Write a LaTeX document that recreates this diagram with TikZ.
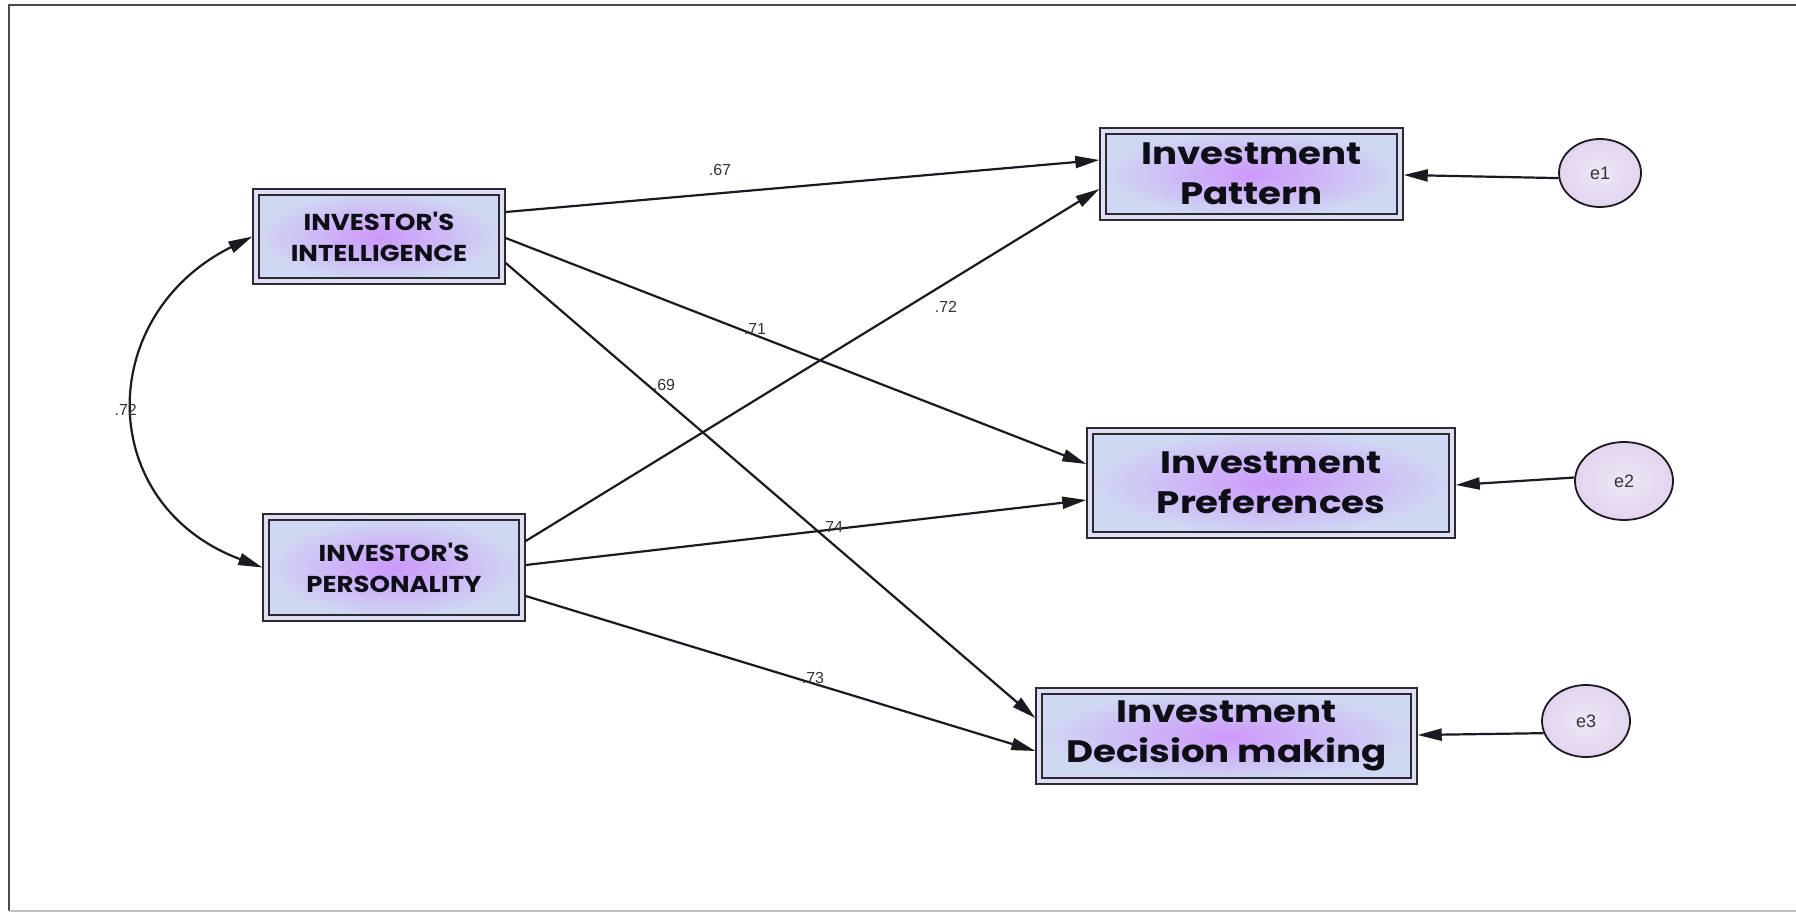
\documentclass[tikz,border=0pt]{standalone}
\usepackage{fontspec}
\setmainfont{Liberation Sans}
\newfontfamily\boxfont[FakeStretch=1.2]{Poppins}
\newfontfamily\capfont[FakeStretch=1.13]{Poppins}
\usetikzlibrary{arrows.meta,shapes.geometric}

\definecolor{boxline}{HTML}{2A2A34}
\definecolor{boxband}{HTML}{E0DEF0}
\definecolor{boxmid}{HTML}{CC98FA}
\definecolor{boxedge}{HTML}{CFD8F2}
\definecolor{boxtext}{HTML}{0E0E16}
\definecolor{linecol}{HTML}{1A1A20}
\definecolor{errmid}{HTML}{EEE8F6}
\definecolor{erredge}{HTML}{E2D4EE}
\definecolor{coeftext}{HTML}{333333}

\tikzset{
  sembox/.style={rectangle, draw=boxline, line width=1.6pt, double=boxband,
    double distance=4.2pt, inner color=boxmid, outer color=boxedge,
    inner sep=0pt, outer sep=3.7pt, align=center, text=boxtext},
  bigtext/.style={font=\boxfont\bfseries\fontsize{31}{40}\selectfont},
  captext/.style={font=\capfont\bfseries\fontsize{23}{31}\selectfont},
  errnode/.style={ellipse, draw=linecol, line width=1.8pt, inner color=errmid,
    outer color=erredge, inner sep=0pt, text=coeftext,
    font=\fontsize{18}{20}\selectfont},
  link/.style={draw=linecol, line width=2.2pt,
    -{Triangle[length=24pt,width=12pt]}},
  coef/.style={text=coeftext, font=\fontsize{16}{18}\selectfont, inner sep=1pt}
}

\begin{document}
\begin{tikzpicture}[x=1pt,y=-1pt]
  \useasboundingbox (0,0) rectangle (1796,913);
  \fill[white] (0,0) rectangle (1796,913);

  % page frame
  \draw[draw=black!70, line width=1.2pt] (1796,5) -- (9,5) -- (9,911);
  \draw[draw=black!25, line width=1.2pt] (9,911) -- (1796,911);

  % exogenous constructs
  \node[sembox, captext, minimum width=246pt, minimum height=89pt] (intel)
    at (379,236.5) {INVESTOR'S\\INTELLIGENCE};
  \node[sembox, captext, minimum width=256pt, minimum height=101pt] (pers)
    at (394,567.5) {INVESTOR'S\\PERSONALITY};

  % endogenous constructs
  \node[sembox, bigtext, minimum width=297pt, minimum height=86pt] (pat)
    at (1251.5,174) {Investment\\Pattern};
  \node[sembox, bigtext, minimum width=362pt, minimum height=104pt] (pref)
    at (1271,483) {Investment\\Preferences};
  \node[sembox, bigtext, minimum width=375pt, minimum height=90pt] (dec)
    at (1226.5,736) {Investment\\Decision making};

  % error terms
  \node[errnode, minimum width=82pt, minimum height=68pt] (e1) at (1600,173) {e1};
  \node[errnode, minimum width=98pt, minimum height=78pt] (e2) at (1624,481) {e2};
  \node[errnode, minimum width=88pt, minimum height=72pt] (e3) at (1586,721) {e3};

  % correlation between the two exogenous constructs
  \draw[draw=linecol, line width=2.2pt,
        {Triangle[length=24pt,width=12pt]}-{Triangle[length=24pt,width=12pt]}]
    (intel.west) .. controls +(-158,79) and +(-168,-63) .. (pers.west);
  \node[coef, anchor=east] (r) at (138,410) {.72};

  % structural paths
  \draw[link] ([yshift=24.5pt]intel.east) -- ([yshift=14pt]pat.west);
  \draw[link] ([yshift=-1.5pt]intel.east) -- ([yshift=19pt]pref.west);
  \draw[link] ([yshift=-26.5pt]intel.east) -- ([yshift=18pt]dec.west);
  \draw[link] ([yshift=26.5pt]pers.east) -- ([yshift=-15pt]pat.west);
  \draw[link] ([yshift=2.5pt]pers.east) -- ([yshift=-17pt]pref.west);
  \draw[link] ([yshift=-28.5pt]pers.east) -- ([yshift=-15pt]dec.west);

  % residual paths
  \draw[link] (e1.187) -- ([yshift=-1pt]pat.east);
  \draw[link] (e2.176) -- ([yshift=-2pt]pref.east);
  \draw[link] (e3.196) -- ([yshift=1pt]dec.east);

  % path coefficients
  \node[coef] (c1) at (720,170) {.67};
  \node[coef] (c2) at (755,329) {.71};
  \node[coef] (c3) at (664,385) {.69};
  \node[coef] (c4) at (946,307) {.72};
  \node[coef] (c5) at (832,527) {.74};
  \node[coef] (c6) at (813,678) {.73};
\end{tikzpicture}
\end{document}
